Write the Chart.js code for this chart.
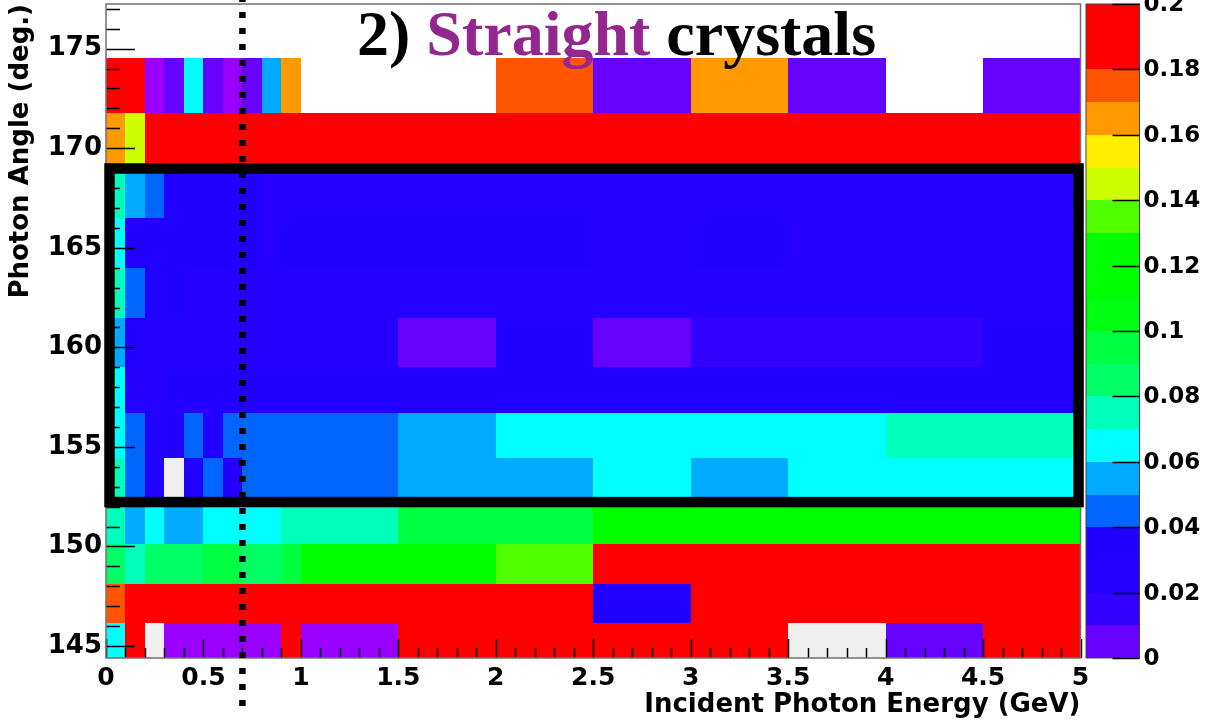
<!DOCTYPE html>
<html lang="en">
<head>
<meta charset="UTF-8">
<title>2) Straight crystals</title>
<script src="https://cdn.jsdelivr.net/npm/chart.js@4.4.1/dist/chart.umd.min.js"></script>
<style>
  html, body { margin: 0; padding: 0; background: #fff; }
  #wrap { width: 1207px; height: 721px; }
</style>
</head>
<body>
<div id="wrap"><canvas id="chart"></canvas></div>
<script>
// bin edges (GeV and degrees)
const energyEdges = [0, 0.1, 0.2, 0.3, 0.4, 0.5, 0.6, 0.7, 0.8, 0.9, 1.0, 1.5, 2.0, 2.5, 3.0, 3.5, 4.0, 4.5, 5.0];
const angleEdges = [144.4, 146.17, 148.10, 150.12, 152.26, 154.43, 156.69, 159.03, 161.49, 163.97, 166.48, 169.12, 171.76, 174.52];

// one list per angle row, bottom row first
// null = empty bin, below 0 = underflow colour, above 0.2 = overflow colour
const ratio = [
  [0.065, 0.192, 0.26, -0.01, -0.01, -0.01, -0.01, -0.01, -0.01, 0.194, -0.01, 0.190, 0.193, 0.191, 0.195, 0.26, 0.006, 0.192],
  [0.176, 0.190, 0.192, 0.194, 0.191, 0.190, 0.193, 0.195, 0.190, 0.192, 0.194, 0.191, 0.190, 0.035, 0.192, 0.190, 0.193, 0.191],
  [0.086, 0.075, 0.084, 0.086, 0.085, 0.095, 0.094, 0.085, 0.086, 0.096, 0.115, 0.116, 0.136, 0.190, 0.192, 0.191, 0.193, 0.190],
  [0.076, 0.055, 0.065, 0.054, 0.056, 0.066, 0.065, 0.064, 0.066, 0.075, 0.074, 0.095, 0.096, 0.114, 0.116, 0.115, 0.113, 0.115],
  [0.076, 0.045, 0.035, 0.26, 0.034, 0.046, 0.035, 0.045, 0.044, 0.046, 0.045, 0.055, 0.056, 0.065, 0.054, 0.066, 0.065, 0.064],
  [0.065, 0.044, 0.035, 0.034, 0.045, 0.036, 0.046, 0.045, 0.044, 0.046, 0.045, 0.055, 0.065, 0.066, 0.064, 0.065, 0.075, 0.076],
  [0.066, 0.025, 0.026, 0.035, 0.034, 0.036, 0.035, 0.034, 0.036, 0.035, 0.034, 0.035, 0.036, 0.034, 0.035, 0.036, 0.034, 0.035],
  [0.055, 0.035, 0.026, 0.025, 0.024, 0.026, 0.025, 0.024, 0.026, 0.025, 0.024, 0.006, 0.034, 0.005, 0.015, 0.016, 0.014, 0.035],
  [0.075, 0.045, 0.035, 0.036, 0.025, 0.024, 0.026, 0.025, 0.024, 0.026, 0.025, 0.024, 0.026, 0.025, 0.024, 0.026, 0.025, 0.024],
  [0.065, 0.035, 0.034, 0.036, 0.035, 0.034, 0.036, 0.035, 0.025, 0.034, 0.035, 0.036, 0.035, 0.026, 0.034, 0.025, 0.024, 0.026],
  [0.075, 0.055, 0.045, 0.035, 0.034, 0.036, 0.035, 0.034, 0.025, 0.026, 0.024, 0.025, 0.026, 0.024, 0.025, 0.026, 0.024, 0.025],
  [0.166, 0.146, 0.190, 0.192, 0.194, 0.191, 0.190, 0.193, 0.195, 0.190, 0.192, 0.194, 0.191, 0.190, 0.193, 0.191, 0.192, 0.190],
  [0.190, 0.193, -0.01, 0.006, 0.066, 0.005, -0.01, 0.006, 0.056, 0.165, null, null, 0.176, 0.005, 0.166, 0.006, null, 0.005]
];

const energyTicks = [0, 0.5, 1, 1.5, 2, 2.5, 3, 3.5, 4, 4.5, 5];
const angleTicks = [145, 150, 155, 160, 165, 170, 175];
const zTicks = [0, 0.02, 0.04, 0.06, 0.08, 0.1, 0.12, 0.14, 0.16, 0.18, 0.2];

// 20 contour levels, 0 to 0.2
const zMin = 0, zMax = 0.2;
const palette = ['#6600ff', '#3300ff', '#2600ff', '#2200ff', '#0066ff', '#00aaff', '#00ffff', '#00ffbb', '#00ff66', '#00ff40',
                 '#00ff10', '#00ff00', '#00ff00', '#4dff00', '#ccff00', '#ffee00', '#ff9900', '#ff5500', '#ff0000', '#ff0000'];
const underColor = '#9900ff';
const overColor = '#efefef';

// dotted cut and the selection box
const cutEnergy = 0.7;
const boxEnergy = [0.018, 4.99];
const boxAngle = [152.23, 168.98];

function cellColor(v) {
  if (v < zMin) return underColor;
  if (v >= zMax) return overColor;
  return palette[Math.floor((v - zMin) / (zMax - zMin) * palette.length)];
}

const cells = [];
ratio.forEach((row, r) => row.forEach((v, c) => {
  if (v === null) return;
  cells.push({
    x: (energyEdges[c] + energyEdges[c + 1]) / 2, y: (angleEdges[r] + angleEdges[r + 1]) / 2,
    x0: energyEdges[c], x1: energyEdges[c + 1], y0: angleEdges[r], y1: angleEdges[r + 1], v: v
  });
}));

// no extra room for the end labels, the frame sits at fixed place
function noPad(s) {
  s.paddingTop = 0; s.paddingBottom = 0; s.paddingLeft = 0; s.paddingRight = 0;
}

const heatmap = {
  id: 'heatmap',
  beforeDatasetsDraw(chart) {
    const {ctx, chartArea: a, scales: {x, y}} = chart;
    ctx.save();
    ctx.beginPath();
    ctx.rect(a.left, a.top, a.width, a.height);
    ctx.clip();
    chart.data.datasets[0].data.forEach(d => {
      const l = Math.round(x.getPixelForValue(d.x0)), r = Math.round(x.getPixelForValue(d.x1));
      const t = Math.round(y.getPixelForValue(d.y1)), b = Math.round(y.getPixelForValue(d.y0));
      ctx.fillStyle = cellColor(d.v);
      ctx.fillRect(l, t, r - l, b - t);
    });
    ctx.restore();
  },
  afterDatasetsDraw(chart) {
    const {ctx, chartArea: a, scales: {x, y, z}} = chart;
    ctx.save();
    // ticks drawn inside the frame
    ctx.strokeStyle = '#000';
    ctx.lineWidth = 1.5;
    ctx.beginPath();
    for (let v = Math.ceil(y.min); v <= y.max; v++) {
      const py = Math.round(y.getPixelForValue(v)) + 0.5;
      ctx.moveTo(a.left, py);
      ctx.lineTo(a.left + (angleTicks.includes(v) ? 29 : 14), py);
    }
    for (let i = 0; i <= 50; i++) {
      const px = Math.round(x.getPixelForValue(i / 10)) + 0.5;
      ctx.moveTo(px, a.bottom);
      ctx.lineTo(px, a.bottom - (i % 5 === 0 ? 19 : 10));
    }
    ctx.stroke();
    // frame
    ctx.strokeStyle = '#707070';
    ctx.lineWidth = 1.5;
    ctx.strokeRect(a.left, a.top, a.width, a.height);
    // colour bar
    const bl = a.right + 5.5, bw = 53.5;
    palette.forEach((col, i) => {
      const lo = zMin + (zMax - zMin) * i / palette.length;
      const hi = zMin + (zMax - zMin) * (i + 1) / palette.length;
      const t = Math.round(z.getPixelForValue(hi)), b = Math.round(z.getPixelForValue(lo));
      ctx.fillStyle = col;
      ctx.fillRect(bl, t, bw, b - t);
    });
    ctx.strokeStyle = '#444';
    ctx.lineWidth = 1;
    ctx.strokeRect(bl, z.top, bw, z.bottom - z.top);
    ctx.strokeStyle = '#000';
    ctx.lineWidth = 1.5;
    ctx.beginPath();
    zTicks.forEach(v => {
      const py = Math.round(z.getPixelForValue(v)) + 0.5;
      ctx.moveTo(bl + bw, py);
      ctx.lineTo(bl + bw - 27, py);
    });
    ctx.stroke();
    ctx.restore();
  },
  afterDraw(chart) {
    const {ctx, chartArea: a, scales: {x, y}} = chart;
    ctx.save();
    // selection box
    ctx.strokeStyle = '#000';
    ctx.lineWidth = 10.5;
    const bx0 = x.getPixelForValue(boxEnergy[0]), bx1 = x.getPixelForValue(boxEnergy[1]);
    const by0 = y.getPixelForValue(boxAngle[1]), by1 = y.getPixelForValue(boxAngle[0]);
    ctx.strokeRect(bx0, by0, bx1 - bx0, by1 - by0);
    // dotted cut line
    const cx = x.getPixelForValue(cutEnergy);
    ctx.lineWidth = 6.5;
    ctx.setLineDash([6, 10]);
    ctx.beginPath();
    ctx.moveTo(cx, -4);
    ctx.lineTo(cx, 710);
    ctx.stroke();
    ctx.setLineDash([]);
    // title, two colours
    const parts = [['2) ', '#000000'], ['Straight', '#93268f'], [' crystals', '#000000']];
    ctx.font = 'bold 64px "Liberation Serif", serif';
    ctx.textBaseline = 'alphabetic';
    let tx = a.left + 251;
    parts.forEach(([s, col]) => {
      ctx.fillStyle = col;
      ctx.fillText(s, tx, a.top + 51);
      tx += ctx.measureText(s).width;
    });
    ctx.restore();
  }
};

Chart.defaults.font.family = '"DejaVu Sans", sans-serif';
Chart.defaults.font.weight = 'bold';
Chart.defaults.color = '#000';

new Chart(document.getElementById('chart'), {
  type: 'scatter',
  data: {
    datasets: [{ data: cells, pointRadius: 0, pointHoverRadius: 0 }]
  },
  options: {
    responsive: true,
    maintainAspectRatio: false,
    animation: false,
    devicePixelRatio: 1,
    layout: { padding: { top: 4, left: 0, right: 0, bottom: 0 } },
    plugins: { legend: { display: false }, tooltip: { enabled: false } },
    scales: {
      x: {
        type: 'linear', position: 'bottom', min: 0, max: 5,
        grid: { display: false, drawTicks: false }, border: { display: false },
        afterBuildTicks: s => { s.ticks = energyTicks.map(v => ({ value: v })); },
        afterFit: s => { s.height = 63; noPad(s); },
        ticks: { font: { size: 25, weight: 'bold' }, padding: 5, maxRotation: 0, autoSkip: false, callback: v => String(v) },
        title: { display: true, text: 'Incident Photon Energy (GeV)', align: 'end', font: { size: 26, weight: 'bold' }, padding: { top: 0, bottom: 0 } }
      },
      y: {
        type: 'linear', position: 'left', min: 144.4, max: 177.24,
        grid: { display: false, drawTicks: false }, border: { display: false },
        afterBuildTicks: s => { s.ticks = angleTicks.map(v => ({ value: v })); },
        afterFit: s => { s.width = 106; noPad(s); },
        ticks: { font: { size: 26, weight: 'bold' }, padding: 4, autoSkip: false, callback: v => String(v) },
        title: { display: true, text: 'Photon Angle (deg.)', align: 'end', font: { size: 26, weight: 'bold' }, padding: { top: 6, bottom: 0 } }
      },
      z: {
        type: 'linear', position: 'right', min: zMin, max: zMax,
        grid: { display: false, drawTicks: false }, border: { display: false },
        afterBuildTicks: s => { s.ticks = zTicks.map(v => ({ value: v })); },
        afterFit: s => { s.width = 126.5; noPad(s); },
        ticks: { font: { size: 23, weight: 'bold' }, padding: 63, labelOffset: 1, autoSkip: false, callback: v => String(v) }
      }
    }
  },
  plugins: [heatmap]
});
</script>
</body>
</html>
